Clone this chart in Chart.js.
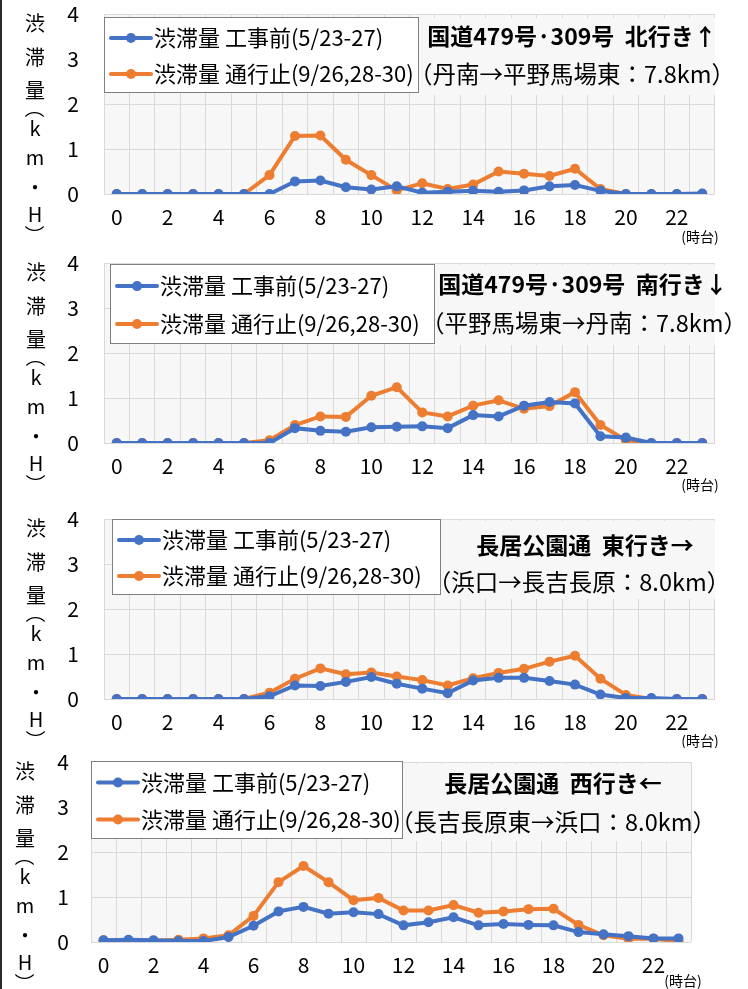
<!DOCTYPE html>
<html>
<head>
<meta charset="utf-8">
<script src="https://cdn.jsdelivr.net/npm/chart.js@4"></script>
<style>
  html, body { margin: 0; padding: 0; background: #fff; }
  body { width: 748px; height: 989px; position: relative; overflow: hidden; }
  canvas { position: absolute; left: 0; }
  #edge { position: absolute; left: 0; top: 0; width: 2px; height: 989px; background: #2b2b2b; }
</style>
</head>
<body>
<div id="edge"></div>
<script>
// Hour-of-day categories (時台)
const hours = ['0','1','2','3','4','5','6','7','8','9','10','11','12','13','14','15','16','17','18','19','20','21','22','23'];
const yTicks = [0, 1, 2, 3, 4];

const beforeLabel = '渋滞量 工事前(5/23-27)';
const closedLabel = '渋滞量 通行止(9/26,28-30)';

// 国道479号·309号 北行き (丹南→平野馬場東)
const northBefore = [0,0,0,0,0,0,0,0.28,0.30,0.15,0.10,0.17,0.03,0.05,0.07,0.05,0.08,0.17,0.20,0.07,0,0,0,0.01];
const northClosed = [0,0,0,0,0,0,0.42,1.29,1.30,0.76,0.42,0.08,0.24,0.11,0.21,0.50,0.45,0.40,0.56,0.11,0,0,0,0];

// 国道479号·309号 南行き (平野馬場東→丹南)
const southBefore = [0,0,0,0,0,0,0,0.33,0.27,0.25,0.35,0.36,0.37,0.33,0.62,0.59,0.83,0.91,0.88,0.15,0.12,0,0,0];
const southClosed = [0,0,0,0,0,0,0.06,0.40,0.59,0.58,1.05,1.24,0.68,0.59,0.83,0.95,0.76,0.82,1.13,0.40,0.06,0,0,0];

// 長居公園通 東行き (浜口→長吉長原)
const eastBefore = [0,0,0,0,0,0,0.06,0.30,0.29,0.38,0.49,0.34,0.23,0.13,0.41,0.47,0.47,0.40,0.32,0.10,0.02,0.02,0,0];
const eastClosed = [0,0,0,0,0,0,0.14,0.45,0.68,0.55,0.59,0.50,0.42,0.30,0.46,0.58,0.67,0.83,0.96,0.45,0.09,0,0,0];

// 長居公園通 西行き (長吉長原東→浜口)
const westBefore = [0.04,0.05,0.04,0.02,0.02,0.11,0.36,0.68,0.78,0.63,0.66,0.62,0.37,0.44,0.55,0.37,0.40,0.38,0.37,0.22,0.17,0.13,0.08,0.08];
const westClosed = [0.04,0.01,0.03,0.05,0.08,0.15,0.58,1.33,1.69,1.33,0.93,0.98,0.70,0.70,0.82,0.65,0.68,0.73,0.74,0.38,0.15,0.07,0.07,0.02];

const roadTitles = ['国道479号·309号  北行き↑', '国道479号·309号  南行き↓', '長居公園通  東行き→', '長居公園通  西行き←'];
const roadSections = ['（丹南→平野馬場東：7.8km）', '（平野馬場東→丹南：7.8km）', '（浜口→長吉長原：8.0km）', '（長吉長原東→浜口：8.0km）'];
// vertical axis title, one character per row; brackets are turned a quarter
const yTitleChars = ['渋', '滞', '量', '（', 'k', 'm', '・', 'H', '）'];
const hourUnit = '(時台)';

const BLUE = '#4472c4';
const ORANGE = '#ed7d31';
const FONT = "'Noto Sans CJK JP', 'Noto Sans', sans-serif";

// Layout of each panel, in page pixels
const panels = [
  { top: 0,   h: 248, area: [104, 715, 14, 194],  legend: [104, 17, 314, 75],  titleBox: [418, 18, 304, 77],  titleX: 572, titleY: 36,  subX: 572, subY: 74,
    yTitleX: 35, tickPad: 25, unitX: 700, unitY: 237, before: northBefore, closed: northClosed },
  { top: 248, h: 255, area: [104, 715, 263, 443], legend: [110, 264, 324, 79], titleBox: [430, 265, 305, 80], titleX: 583, titleY: 284, subX: 584, subY: 323,
    yTitleX: 36, tickPad: 25, unitX: 700, unitY: 485, before: southBefore, closed: southClosed },
  { top: 503, h: 245, area: [104, 715, 519, 699], legend: [112, 519, 328, 75], titleBox: [436, 521, 280, 78], titleX: 585, titleY: 545, subX: 579, subY: 582,
    yTitleX: 36, tickPad: 25, unitX: 700, unitY: 741, before: eastBefore, closed: eastClosed },
  { top: 748, h: 241, area: [91, 691, 762, 942],  legend: [91, 761, 311, 77],  titleBox: [402, 764, 295, 77], titleX: 553, titleY: 783, subX: 553, subY: 822,
    yTitleX: 25, tickPad: 22, unitX: 683, unitY: 981, before: westBefore, closed: westClosed }
];

// Chart decorations: plot background, boxed legend, road title, vertical axis title
const decoPlugin = {
  id: 'deco',
  beforeDraw(chart, args, o) {
    const { ctx, chartArea: a } = chart;
    ctx.save();
    ctx.fillStyle = '#f7f7f7';
    ctx.fillRect(a.left, a.top, a.right - a.left, a.bottom - a.top);
    ctx.restore();
  },
  beforeDatasetsDraw(chart, args, o) {
    const { ctx, chartArea: a } = chart;
    const p = o.panel, dy = p.top;
    ctx.save();
    // title text box covers the grid inside the plot area
    ctx.save();
    ctx.beginPath();
    ctx.rect(a.left, a.top, a.right - a.left, a.bottom - a.top);
    ctx.clip();
    ctx.fillStyle = '#f7f7f7';
    ctx.fillRect(p.titleBox[0], p.titleBox[1] - dy, p.titleBox[2], p.titleBox[3]);
    ctx.restore();

    ctx.fillStyle = '#000';
    ctx.textAlign = 'center';
    ctx.textBaseline = 'middle';
    ctx.font = 'bold 23px ' + FONT;
    ctx.fillText(o.title, p.titleX, p.titleY - dy);
    ctx.font = '23.5px ' + FONT;
    ctx.fillText(o.section, p.subX, p.subY - dy);

    // legend box
    const [lx, ly, lw, lh] = p.legend;
    ctx.fillStyle = '#fff';
    ctx.fillRect(lx + 0.5, ly - dy + 0.5, lw, lh);
    ctx.strokeStyle = '#7f7f7f';
    ctx.lineWidth = 1;
    ctx.strokeRect(lx + 0.5, ly - dy + 0.5, lw, lh);
    chart.data.datasets.forEach((ds, i) => {
      const cy = ly - dy + lh * (i === 0 ? 0.28 : 0.76);
      const x0 = lx + 7, x1 = lx + 47;
      ctx.strokeStyle = ds.borderColor;
      ctx.lineWidth = 4;
      ctx.lineCap = 'round';
      ctx.beginPath();
      ctx.moveTo(x0, cy);
      ctx.lineTo(x1, cy);
      ctx.stroke();
      ctx.fillStyle = ds.borderColor;
      ctx.beginPath();
      ctx.arc((x0 + x1) / 2, cy, 5, 0, Math.PI * 2);
      ctx.fill();
      ctx.fillStyle = '#000';
      ctx.textAlign = 'left';
      ctx.font = '22px ' + FONT;
      ctx.fillText(ds.label, x1 + 3, cy);
    });
    ctx.restore();
  },
  afterDraw(chart, args, o) {
    const { ctx } = chart;
    const p = o.panel, dy = p.top;
    ctx.save();
    ctx.fillStyle = '#000';
    ctx.textAlign = 'center';
    ctx.textBaseline = 'middle';
    ctx.font = '20px ' + FONT;
    const offs = [9, 43, 76, 94, 114, 143, 173, 200, 221];
    yTitleChars.forEach((ch, i) => {
      const y = p.area[2] - dy + offs[i];
      if (ch === '（' || ch === '）') {
        ctx.save();
        ctx.translate(p.yTitleX, y);
        ctx.rotate(Math.PI / 2);
        ctx.fillText(ch, 0, 0);
        ctx.restore();
      } else {
        ctx.fillText(ch, p.yTitleX, y);
      }
    });
    ctx.font = '14px ' + FONT;
    ctx.fillText(hourUnit, p.unitX, p.unitY - dy);
    ctx.restore();
  }
};

panels.forEach((p, idx) => {
  const cv = document.createElement('canvas');
  cv.style.top = p.top + 'px';
  cv.style.width = '748px';
  cv.style.height = p.h + 'px';
  cv.width = 748;
  cv.height = p.h;
  document.body.appendChild(cv);

  const [aL, aR, aT, aB] = p.area;
  new Chart(cv, {
    type: 'line',
    data: {
      labels: hours,
      datasets: [
        { label: beforeLabel, data: p.before, borderColor: BLUE, backgroundColor: BLUE,
          borderWidth: 4, pointRadius: 5, pointHoverRadius: 5, pointBorderWidth: 0, tension: 0 },
        { label: closedLabel, data: p.closed, borderColor: ORANGE, backgroundColor: ORANGE,
          borderWidth: 4, pointRadius: 5, pointHoverRadius: 5, pointBorderWidth: 0, tension: 0 }
      ]
    },
    options: {
      responsive: false,
      animation: false,
      events: [],
      layout: { padding: { left: 0, right: 748 - aR, top: aT - p.top, bottom: 0 } },
      plugins: {
        legend: { display: false },
        tooltip: { enabled: false },
        deco: { panel: p, title: roadTitles[idx], section: roadSections[idx] }
      },
      scales: {
        x: {
          offset: true,
          grid: { offset: true, color: '#d9d9d9', drawTicks: false },
          border: { display: false },
          ticks: {
            autoSkip: false, maxRotation: 0, padding: 10, color: '#000',
            font: { family: FONT, size: 21 },
            callback: (v, i) => (i % 2 === 0 ? hours[i] : '')
          },
          afterFit: (s) => { s.height = p.h - (aB - p.top); s.paddingLeft = 0; s.paddingRight = 0; }
        },
        y: {
          min: 0, max: 4,
          afterBuildTicks: (s) => { s.ticks = yTicks.map(v => ({ value: v })); },
          grid: { color: '#d9d9d9', drawTicks: false },
          border: { display: false },
          ticks: { padding: p.tickPad, color: '#000', font: { family: FONT, size: 21 } },
          afterFit: (s) => { s.width = aL; s.paddingTop = 0; s.paddingBottom = 0; }
        }
      }
    },
    plugins: [decoPlugin]
  });
});
</script>
</body>
</html>
